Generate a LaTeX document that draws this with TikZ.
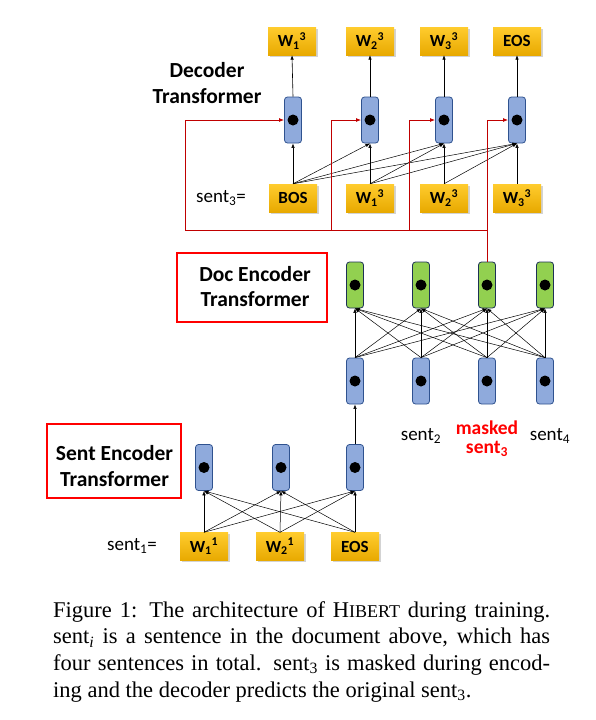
\documentclass[tikz,border=0pt]{standalone}
\usepackage{fontspec}
\setmainfont{Liberation Serif}
\newfontfamily\calfont{Carlito}
\usetikzlibrary{arrows.meta,shadows}
\definecolor{cellblue}{HTML}{8FAADC}
\definecolor{cellborder}{HTML}{2F528F}
\definecolor{cellgreen}{HTML}{92D050}
\definecolor{ytop}{HTML}{FFCC2E}
\definecolor{ybot}{HTML}{E8A900}
\definecolor{darkred}{HTML}{C00000}
\begin{document}
\begin{tikzpicture}[x=1pt,y=-1pt,
  cellb/.style={draw=cellborder, fill=cellblue, rounded corners=3pt, minimum width=17pt, minimum height=46pt, inner sep=0pt, line width=0.8pt,
    path picture={\fill[black] (path picture bounding box.center) circle (5.5pt);}},
  cellg/.style={cellb, fill=cellgreen, draw=cellborder!60!black},
  tok/.style={top color=ytop, bottom color=ybot, drop shadow={shadow xshift=1.5pt, shadow yshift=-1.5pt, opacity=0.35},
    minimum width=48pt, minimum height=28pt, inner sep=0pt, font=\calfont\bfseries\fontsize{17}{19}\selectfont},
  ar/.style={-{Latex[length=4.5pt,width=3.5pt]}, line width=0.6pt, black},
  redar/.style={-{Latex[length=5pt,width=4pt]}, line width=0.9pt, darkred},
  redline/.style={line width=0.9pt, darkred},
  redbox/.style={draw=red, line width=2.6pt, inner sep=0pt},
  ttl/.style={align=center, inner sep=0pt, font=\calfont\bfseries\fontsize{21.5}{25.5}\selectfont},
  lbl/.style={inner sep=0pt, font=\calfont\fontsize{19}{22}\selectfont},
  mlbl/.style={inner sep=0pt, text=red, font=\calfont\bfseries\fontsize{19.5}{22}\selectfont}
]
\useasboundingbox (0,0) rectangle (596,720);

% decoder
\node[tok] (o1) at (292,41) {W\textsubscript{1}\textsuperscript{3}};
\node[tok] (o2) at (370,41) {W\textsubscript{2}\textsuperscript{3}};
\node[tok] (o3) at (444,41) {W\textsubscript{3}\textsuperscript{3}};
\node[tok] (o4) at (517,41) {EOS};
\node[cellb] (d1) at (293,120) {};
\node[cellb] (d2) at (370,120) {};
\node[cellb] (d3) at (444,120) {};
\node[cellb] (d4) at (517,120) {};
\node[tok] (i1) at (293,198) {BOS};
\node[tok] (i2) at (370,198) {W\textsubscript{1}\textsuperscript{3}};
\node[tok] (i3) at (444,198) {W\textsubscript{2}\textsuperscript{3}};
\node[tok] (i4) at (517,198) {W\textsubscript{3}\textsuperscript{3}};
\node[ttl] (dect) at (207,83) {Decoder\\Transformer};
\node[lbl] (s3eq) at (221,198) {sent\textsubscript{3}=};

\foreach \i in {1,...,4} {
  \draw[ar] (d\i.north) -- (o\i.south);
  \draw[ar] (i\i.north) -- (d\i.south);
}
\foreach \i/\j in {1/2,1/3,1/4,2/3,2/4,3/4} {
  \draw[ar, line width=0.5pt] (i\i.north) -- (d\j.south);
}

% doc encoder
\node[cellg] (g1) at (355,285) {};
\node[cellg] (g2) at (421,285) {};
\node[cellg] (g3) at (487,285) {};
\node[cellg] (g4) at (545,285) {};
\node[cellb] (b1) at (355,381) {};
\node[cellb] (b2) at (421,381) {};
\node[cellb] (b3) at (487,381) {};
\node[cellb] (b4) at (545,381) {};
\foreach \i in {1,...,4} {
  \foreach \j in {1,...,4} {
    \draw[ar, line width=0.5pt] (b\i.north) -- (g\j.south);
  }
}
\node[redbox, minimum width=150pt, minimum height=69pt] (docbox) at (252,287.5) {};
\node[ttl] (doct) at (255,286.5) {Doc Encoder\\Transformer};
\node[lbl] (sent2) at (421,436) {sent\textsubscript{2}};
\node[mlbl] (masked) at (487,428) {masked};
\node[mlbl] (sent3m) at (487,449) {sent\textsubscript{3}};
\node[lbl] (sent4) at (550,436) {sent\textsubscript{4}};

% red connectors
\coordinate (rj) at (487,230);
\coordinate (bus1) at (185,230);
\coordinate (bus2) at (331,230);
\coordinate (bus3) at (409,230);
\coordinate (bus4) at (487,230);
\coordinate (t1) at (185,120);
\coordinate (t2) at (331,120);
\coordinate (t3) at (409,120);
\coordinate (t4) at (487,120);
\draw[redline] (g3.north) -- (rj);
\draw[redline] (rj) -- (bus1);
\foreach \i in {1,...,4} {
  \draw[redar] (bus\i) -- (t\i) -- (d\i.west);
}

% sent encoder
\node[cellb] (s1) at (204,467.5) {};
\node[cellb] (s2) at (281,467.5) {};
\node[cellb] (s3) at (355,467.5) {};
\node[tok] (w1) at (204,546.5) {W\textsubscript{1}\textsuperscript{1}};
\node[tok] (w2) at (280,546.5) {W\textsubscript{2}\textsuperscript{1}};
\node[tok] (w3) at (355,546.5) {EOS};
\foreach \i in {1,...,3} {
  \foreach \j in {1,...,3} {
    \draw[ar, line width=0.5pt] (w\i.north) -- (s\j.south);
  }
}
\draw[ar] (s3.north) -- (b1.south);
\node[redbox, minimum width=134pt, minimum height=74pt] (sentbox) at (114,461) {};
\node[ttl] (sentt) at (114.5,466) {Sent Encoder\\Transformer};
\node[lbl] (s1eq) at (132,546) {sent\textsubscript{1}=};

% caption
\node[anchor=base west, inner sep=0pt] (cap) at (53,617) {\parbox[t]{497pt}{\fontsize{22.5}{26.8}\selectfont
Figure 1: The architecture of H{\fontsize{18}{20}\selectfont IBERT} during training.\linebreak
sent\textsubscript{\textit{i}} is a sentence in the document above, which has\linebreak
four sentences in total. sent\textsubscript{3} is masked during encod-\linebreak
ing and the decoder predicts the original sent\textsubscript{3}.}};
\end{tikzpicture}
\end{document}
